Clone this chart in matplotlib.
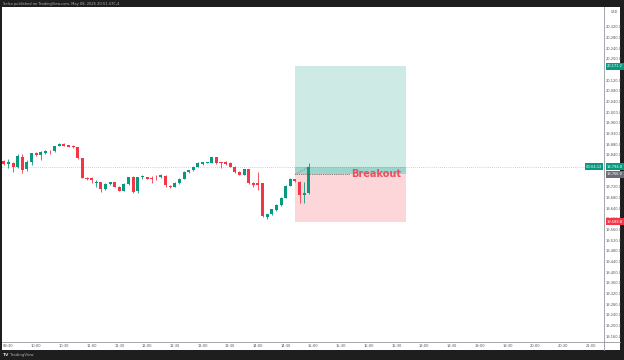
import matplotlib
matplotlib.use("Agg")
import matplotlib.pyplot as plt
from matplotlib.patches import Rectangle
from matplotlib.lines import Line2D
import matplotlib.transforms as mtransforms

# 5 minute candles, first bar is 09:25 (index -1)
opens = [19816, 19804, 19808, 19795, 19832, 19785, 19811, 19845, 19838, 19845,
         19855, 19853, 19872, 19879, 19876, 19874, 19868, 19826, 19754, 19751,
         19735, 19737, 19710, 19730, 19736, 19720, 19705, 19729, 19757, 19702,
         19755, 19755, 19752, 19754, 19755, 19761, 19724, 19720, 19733, 19749,
         19776, 19781, 19795, 19805, 19809, 19810, 19830, 19812, 19814, 19810,
         19795, 19776, 19765, 19785, 19735, 19733, 19733, 19607, 19617, 19632,
         19651, 19679, 19724, 19748, 19739, 19687, 19695]
highs = [19820, 19823, 19812, 19842, 19841, 19820, 19847, 19850, 19854, 19857,
         19857, 19874, 19884, 19882, 19878, 19876, 19869, 19827, 19756, 19756,
         19745, 19739, 19734, 19739, 19739, 19722, 19732, 19758, 19760, 19758,
         19762, 19758, 19760, 19764, 19766, 19764, 19726, 19736, 19752, 19779,
         19784, 19798, 19811, 19814, 19814, 19833, 19833, 19814, 19816, 19812,
         19797, 19779, 19788, 19788, 19737, 19774, 19734, 19619, 19638, 19655,
         19681, 19726, 19751, 19749, 19741, 19738, 19810]
lows = [19803, 19789, 19776, 19790, 19770, 19779, 19801, 19835, 19820, 19842,
        19841, 19850, 19871, 19871, 19867, 19865, 19825, 19752, 19745, 19735,
        19720, 19700, 19707, 19726, 19717, 19702, 19702, 19726, 19698, 19698,
        19750, 19747, 19733, 19745, 19752, 19719, 19715, 19717, 19730, 19747,
        19771, 19779, 19792, 19801, 19807, 19809, 19805, 19790, 19803, 19794,
        19771, 19762, 19762, 19730, 19719, 19707, 19608, 19599, 19614, 19629,
        19647, 19676, 19721, 19739, 19659, 19658, 19692]
closes = [19806, 19811, 19793, 19836, 19782, 19812, 19845, 19840, 19850, 19854,
          19853, 19872, 19881, 19874, 19870, 19868, 19826, 19754, 19748, 19745,
          19738, 19710, 19730, 19736, 19720, 19705, 19729, 19755, 19701, 19755,
          19760, 19750, 19750, 19751, 19764, 19726, 19719, 19733, 19749, 19776,
          19781, 19795, 19808, 19812, 19811, 19830, 19808, 19808, 19805, 19795,
          19774, 19765, 19785, 19735, 19727, 19727, 19610, 19618, 19636, 19651,
          19679, 19724, 19748, 19742, 19687, 19695, 19795]
first_bar = -1

time_labels = ["09:30", "10:00", "10:30", "11:00", "11:30", "12:00", "12:30",
               "13:00", "13:30", "14:00", "14:30", "15:00", "15:30", "16:00",
               "16:30", "18:00", "18:30", "19:00", "19:30", "20:00", "20:30", "21:00"]
price_ticks = list(range(19160, 20321, 40))

entry = 19766.0
take_profit = 20171.2
stop_loss = 19588.8
last_price = 19794.8
countdown = "00:04:12"
pos_start, pos_end = 62, 86   # bar indices of the long position box
note = "Breakout"


def bar_index(t):
    h, m = map(int, t.split(":"))
    mins = h * 60 + m - (9 * 60 + 30)
    if h >= 18:
        mins -= 60  # 17:00-18:00 break
    return mins / 5


GREEN = "#089981"
RED = "#f23645"
FRAME = "#1e1e1e"

W, H = 624, 360
fig = plt.figure(figsize=(W / 100, H / 100), dpi=100, facecolor=FRAME)

# white chart panel
fig.patches.append(Rectangle((2 / W, 1 - 350 / H), 618 / W, 343 / H,
                             transform=fig.transFigure, facecolor="white",
                             edgecolor="none", zorder=-5))

ax = fig.add_axes([2 / W, 1 - 342 / H, 602 / W, 335 / H])
ax.set_zorder(2)
ax.set_facecolor("white")
ax.set_xlim(-1.4, 128.9)
ax.set_ylim(19137.5, 20393.75)

# candles
for k in range(len(opens)):
    x = first_bar + k
    o, hi, lo, c = opens[k], highs[k], lows[k], closes[k]
    col = GREEN if c >= o else RED
    ax.vlines(x, lo, hi, color=col, linewidth=0.6, zorder=3)
    ax.bar(x, max(abs(c - o), 1.5), bottom=min(o, c), width=0.66,
           color=col, linewidth=0, zorder=4)

# long position tool
ax.add_patch(Rectangle((pos_start, entry), pos_end - pos_start, take_profit - entry,
                       facecolor=GREEN, alpha=0.2, edgecolor="none", zorder=1))
ax.add_patch(Rectangle((pos_start, stop_loss), pos_end - pos_start, entry - stop_loss,
                       facecolor=RED, alpha=0.2, edgecolor="none", zorder=1))
ax.add_patch(Rectangle((pos_start, entry), pos_end - pos_start, last_price - entry,
                       facecolor=GREEN, alpha=0.25, edgecolor="none", zorder=2))
ax.plot([pos_start, first_bar + len(closes) - 1], [entry, last_price],
        color="#787b86", linewidth=0.6, linestyle=(0, (1, 1.5)), zorder=5)
ax.plot([pos_start, pos_start + 12], [entry, entry],
        color="#555555", linewidth=0.6, linestyle=(0, (1, 1.2)), zorder=5)
ax.text(pos_start + 12.2, entry, note, color="#e8505f", fontsize=7.0,
        fontweight="bold", va="center", ha="left", zorder=6)

# last price line
ax.axhline(last_price, color=GREEN, linewidth=0.5, linestyle=(0, (1, 2)),
           alpha=0.6, zorder=2)

# axes styling
for s in ["top", "left"]:
    ax.spines[s].set_visible(False)
ax.spines["right"].set_color("#9598a1")
ax.spines["bottom"].set_color("#9598a1")
ax.spines["right"].set_linewidth(0.6)
ax.spines["bottom"].set_linewidth(0.6)

ax.yaxis.tick_right()
hidden = [take_profit, last_price, entry]
shown = [p for p in price_ticks if all(abs(p - h) > 20 for h in hidden)]
ax.set_yticks(shown)
ax.set_yticklabels([f"{p:,.1f}" for p in shown], fontsize=2.6, color="#555555")
ax.set_xticks([bar_index(t) for t in time_labels])
ax.set_xticklabels(time_labels, fontsize=2.6, color="#555555")
ax.tick_params(axis="both", length=0, pad=1.5)

# price axis labels
trans = mtransforms.blended_transform_factory(ax.transAxes, ax.transData)
for val, col, tc in [(take_profit, GREEN, "white"), (last_price, GREEN, "white"),
                     (entry, "#6a6d78", "white"), (stop_loss, RED, "white")]:
    ax.text(1.005, val, f"{val:,.1f}", transform=trans, fontsize=2.6, color=tc,
            va="center", ha="left", clip_on=False, zorder=10,
            bbox=dict(boxstyle="square,pad=0.35", facecolor=col, edgecolor="none"))
ax.text(0.997, last_price, countdown, transform=trans, fontsize=2.6, color="white",
        va="center", ha="right", clip_on=False, zorder=10,
        bbox=dict(boxstyle="square,pad=0.35", facecolor=GREEN, edgecolor="none"))
ax.text(1.012, 1 - 5 / 335, "USD", transform=ax.transAxes, fontsize=2.4,
        color="#555555", va="center", ha="left")

# separator lines extended into the axis columns
fig.add_artist(Line2D([604 / W, 620 / W], [1 - 342 / H, 1 - 342 / H],
                      transform=fig.transFigure, color="#9598a1", linewidth=0.6))
fig.add_artist(Line2D([604 / W, 604 / W], [1 - 350 / H, 1 - 342 / H],
                      transform=fig.transFigure, color="#9598a1", linewidth=0.6))

# frame texts
fig.text(3 / W, 1 - 3.5 / H, "Selso published on TradingView.com, May 08, 2025 20:51 UTC-4",
         fontsize=2.6, color="#b0b0b0", va="center", ha="left")
fig.text(3 / W, 1 - 355 / H, "TV", fontsize=3.2, color="#d0d0d0",
         fontweight="bold", va="center", ha="left")
fig.text(10 / W, 1 - 355 / H, "TradingView", fontsize=2.8, color="#b0b0b0",
         va="center", ha="left")

fig.savefig("out.png", dpi=100, facecolor=FRAME)
